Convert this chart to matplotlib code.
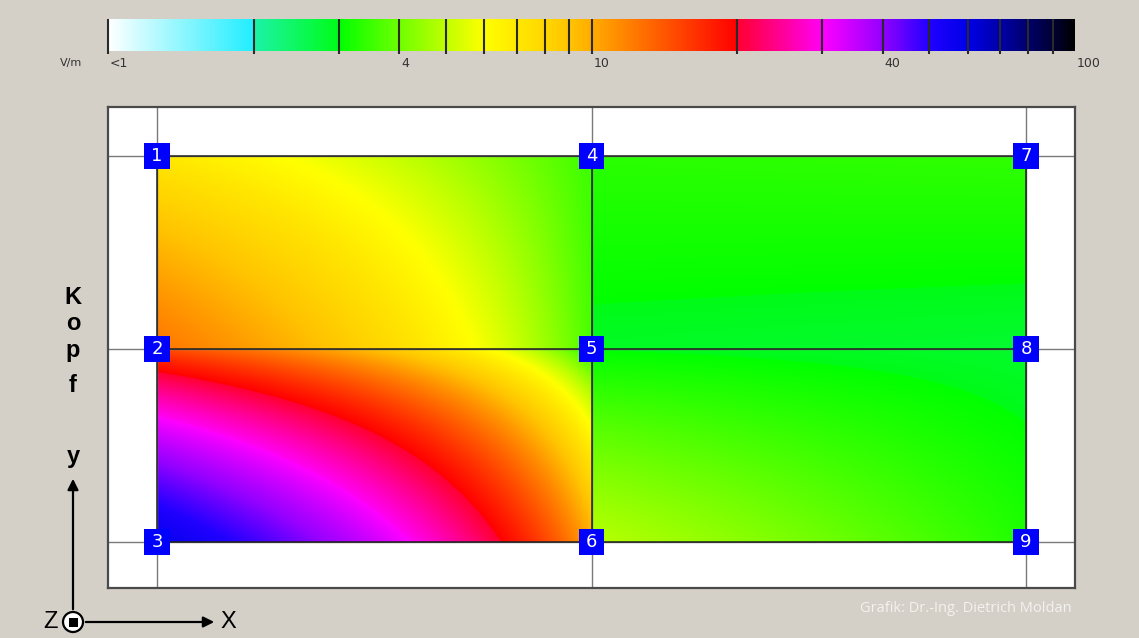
import numpy as np
import matplotlib
matplotlib.use('Agg')
import matplotlib.pyplot as plt
import matplotlib.transforms as mtransforms
from matplotlib.colors import LinearSegmentedColormap, LogNorm, to_rgb
from matplotlib.cm import ScalarMappable
from matplotlib.patches import Circle, Rectangle
from matplotlib.ticker import NullLocator

# colour scale in V/m: tick values and the colour on either side of each tick
band_edges = [1, 2, 3, 4, 5, 6, 7, 8, 9, 10, 20, 30, 40, 50, 60, 70, 80, 90, 100]
edge_below = ['#ffffff', '#20eeff', '#00fc18', '#6eff00', '#c0ff00', '#ffff00',
              '#ffe800', '#ffd600', '#ffc400', '#ffac00', '#ff0000', '#ff00f4',
              '#9400ff', '#2000ff', '#0000e8', '#0000a8', '#00006a', '#000034', '#000000']
edge_above = ['#ffffff', '#1cf2a8', '#00ff00', '#6eff00', '#c0ff00', '#ffff00',
              '#ffe800', '#ffd600', '#ffc400', '#ffac00', '#ff0030', '#ff00ff',
              '#9400ff', '#2000ff', '#0000e8', '#0000a8', '#00006a', '#000034', '#000000']
scale_labels = ['<1', '4', '10', '40', '100']
scale_label_at = [1, 4, 10, 40, 100]

# measured field strength (V/m) at the corners of each cell
# order: top-left, top-right, bottom-left, bottom-right
cell_upper_left = [7.0, 3.5, 12.5, 3.6]
cell_upper_right = [3.35, 3.4, 2.9, 2.8]
cell_lower_left = [15.0, 3.3, 58.0, 10.0]
cell_lower_right = [3.0, 2.85, 4.9, 3.25]

# measuring points 1..9, column by column
point_ids = [1, 2, 3, 4, 5, 6, 7, 8, 9]
point_col = [0, 0, 0, 1, 1, 1, 2, 2, 2]
point_row = [0, 1, 2, 0, 1, 2, 0, 1, 2]

# build the colormap on the log axis (1..100 -> 0..1)
cdict = {'red': [], 'green': [], 'blue': []}
for e, lo, hi in zip(band_edges, edge_below, edge_above):
    p = np.log10(e) / 2
    lo, hi = to_rgb(lo), to_rgb(hi)
    for i, ch in enumerate(['red', 'green', 'blue']):
        cdict[ch].append((p, lo[i], hi[i]))
cmap = LinearSegmentedColormap('vm', cdict, N=2048)
norm = LogNorm(vmin=1, vmax=100)

W, H = 1139, 638
fig = plt.figure(figsize=(W / 100, H / 100), dpi=100, facecolor='#d4d0c8')

# background axes in pixel units for the labels around the plot
bg = fig.add_axes([0, 0, 1, 1])
bg.set_xlim(0, W)
bg.set_ylim(H, 0)
bg.axis('off')


def frac(x0, y0, x1, y1):
    return [x0 / W, 1 - y1 / H, (x1 - x0) / W, (y1 - y0) / H]


# colour bar
cax = fig.add_axes(frac(108, 19, 1075, 51))
cb = fig.colorbar(ScalarMappable(norm=norm, cmap=cmap), cax=cax, orientation='horizontal')
cb.outline.set_visible(False)
cax.xaxis.set_minor_locator(NullLocator())
cax.set_xticks([])
tr = cax.get_xaxis_transform()
cax.vlines(band_edges[:-1], -0.1, 1.0, transform=tr, colors='#2a2a2a', lw=1.5, clip_on=False)
lab_tr = mtransforms.offset_copy(tr, fig=fig, x=2, y=0, units='dots')
for v, lab in zip(scale_label_at, scale_labels):
    cax.text(v, -0.38, lab, transform=lab_tr, ha='left', va='center',
             fontsize=9, color='#333333')
bg.text(71, 63, 'V/m', ha='center', va='center', fontsize=8, color='#333333')

# field map
mx = 49 / 434.5
ax = fig.add_axes(frac(108, 107, 1075, 588))
ax.set_xlim(-mx, 2 + mx)
ax.set_ylim(2 + 46 / 193, -49 / 193)
ax.set_facecolor('white')
ax.set_xticks([])
ax.set_yticks([])
for s in ax.spines.values():
    s.set_color('#4a4a4a')
    s.set_linewidth(1.6)

u = np.linspace(0, 1, 400)
v = np.linspace(0, 1, 200)
U, V = np.meshgrid(u, v)
cells = [(0, 0, cell_upper_left), (1, 0, cell_upper_right),
         (0, 1, cell_lower_left), (1, 1, cell_lower_right)]
for c, r, (a, b, d, e) in cells:
    val = a * (1 - U) * (1 - V) + b * U * (1 - V) + d * (1 - U) * V + e * U * V
    ax.imshow(val, cmap=cmap, norm=norm, extent=(c, c + 1, r + 1, r),
              origin='upper', aspect='auto', interpolation='bilinear', zorder=1)

# grid through the measuring points: light over the margin, dark over the map
for k in range(3):
    ax.axvline(k, color='#7a7a7a', lw=1.0, zorder=2)
    ax.axhline(k, color='#7a7a7a', lw=1.0, zorder=2)
    ax.plot([k, k], [0, 2], color='#1a1a1a', lw=1.4, alpha=0.75, zorder=2)
    ax.plot([0, 2], [k, k], color='#1a1a1a', lw=1.4, alpha=0.75, zorder=2)

ax.scatter(point_col, point_row, marker='s', s=330, c='#0000ff',
           edgecolors='none', zorder=3)
for pid, c, r in zip(point_ids, point_col, point_row):
    ax.text(c, r, str(pid), ha='center', va='center', color='white',
            fontsize=13, zorder=4)

# side labels and coordinate arrows
for ch, y in zip('Kopf', [297, 323, 350, 385]):
    bg.text(73, y, ch, ha='center', va='center', fontsize=17,
            fontweight='bold', family='Liberation Sans')
bg.text(73, 456, 'y', ha='center', va='center', fontsize=17,
        fontweight='bold', family='Liberation Sans')
bg.annotate('', xy=(73, 476), xytext=(73, 612),
            arrowprops=dict(arrowstyle='-|>', color='black', lw=1.6, mutation_scale=16))
bg.annotate('', xy=(217, 622), xytext=(83, 622),
            arrowprops=dict(arrowstyle='-|>', color='black', lw=1.6, mutation_scale=16))
bg.add_patch(Circle((73, 622), 10, fc='white', ec='black', lw=1.6))
bg.add_patch(Rectangle((68.5, 617.5), 9, 9, fc='black', ec='none'))
bg.text(51, 622, 'Z', ha='center', va='center', fontsize=17, family='Liberation Sans')
bg.text(228, 622, 'X', ha='center', va='center', fontsize=17, family='Liberation Sans')

bg.text(1072, 608, 'Grafik: Dr.-Ing. Dietrich Moldan', ha='right', va='center',
        fontsize=10.5, color='#f4f2ee', family='Open Sans')

fig.savefig('out.png', dpi=100, facecolor=fig.get_facecolor())
